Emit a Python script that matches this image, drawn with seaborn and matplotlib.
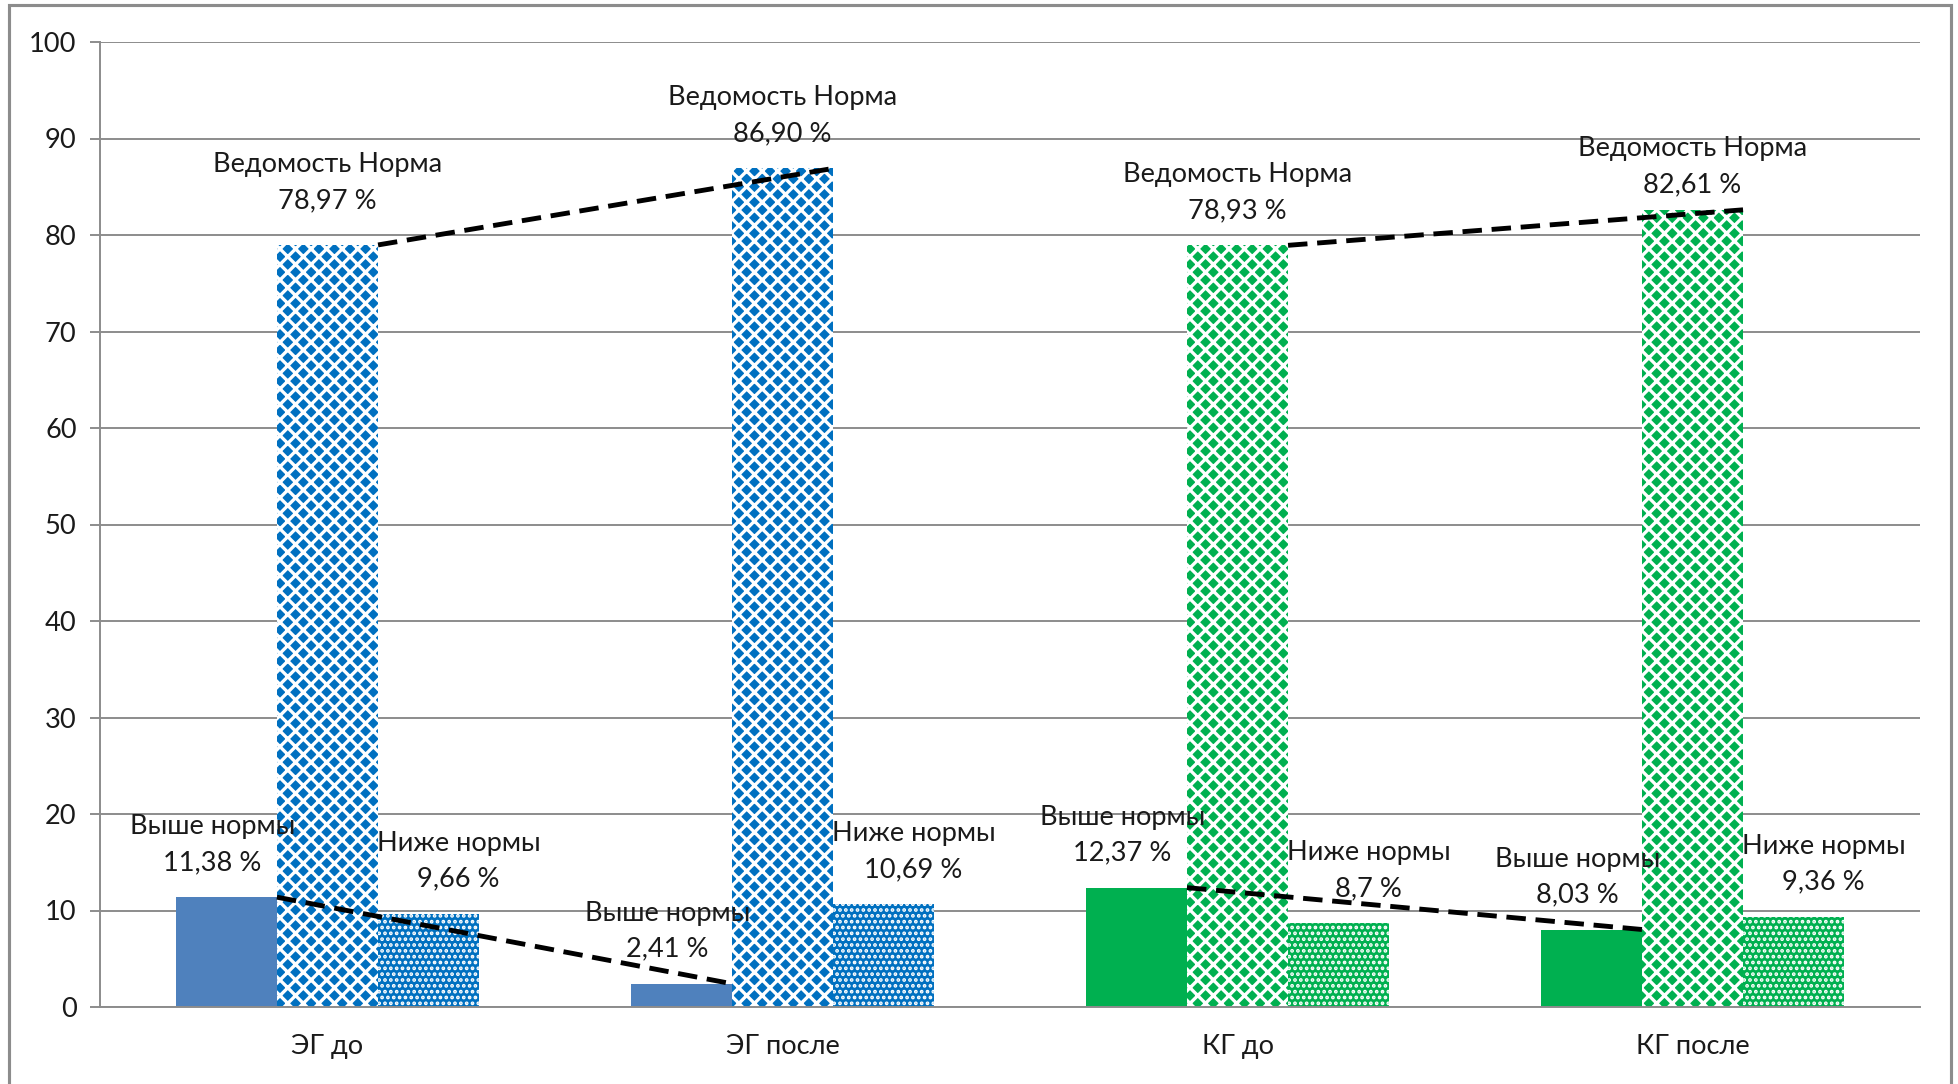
import matplotlib
matplotlib.use("Agg")
import matplotlib.pyplot as plt
import seaborn as sns
import pandas as pd
from matplotlib.patches import Rectangle

# данные с диаграммы
groups = ["ЭГ до", "ЭГ после", "КГ до", "КГ после"]
kinds = ["Выше нормы", "Ведомость Норма", "Ниже нормы"]
above_norm = [11.38, 2.41, 12.37, 8.03]
norm = [78.97, 86.90, 78.93, 82.61]
below_norm = [9.66, 10.69, 8.7, 9.36]
value_labels = [
    ["11,38 %", "2,41 %", "12,37 %", "8,03 %"],
    ["78,97 %", "86,90 %", "78,93 %", "82,61 %"],
    ["9,66 %", "10,69 %", "8,7 %", "9,36 %"],
]

rows = []
for k, vals in zip(kinds, [above_norm, norm, below_norm]):
    for g, v in zip(groups, vals):
        rows.append({"group": g, "kind": k, "value": v})
df = pd.DataFrame(rows)

sns.set_style("white")
plt.rcParams["font.family"] = ["Lato", "DejaVu Sans"]
plt.rcParams["hatch.linewidth"] = 1.3

DPI = 140
fig = plt.figure(figsize=(1959 / DPI, 1084 / DPI), dpi=DPI)
ax = fig.add_axes([100 / 1959, 77 / 1084, 1820 / 1959, 965 / 1084])

sns.barplot(data=df, x="group", y="value", hue="kind", hue_order=kinds,
            order=groups, width=2 / 3, dodge=True, legend=False, ax=ax,
            errorbar=None)

solid = {"ЭГ": "#4F81BD", "КГ": "#00B050"}
pattern = {"ЭГ": "#0070C0", "КГ": "#00B050"}
hatches = [None, "xxx", "...."]
hatch_lw = [None, 1.7, 1.3]

for i, cont in enumerate(ax.containers):
    for j, bar in enumerate(cont):
        key = groups[j][:2]
        bar.set_linewidth(0)
        if i == 0:
            bar.set_facecolor(solid[key])
            bar.set_edgecolor(solid[key])
        else:
            bar.set_facecolor(pattern[key])
            bar.set_edgecolor("white")
            bar.set_hatch(hatches[i])
            if hasattr(bar, "set_hatch_linewidth"):
                bar.set_hatch_linewidth(hatch_lw[i])

# подписи (сдвиг в пикселях, как в исходной диаграмме)
dxs = [-14, 0, 30]
norm_lift = [10, 0, 0, -9]
for i, cont in enumerate(ax.containers):
    for j, bar in enumerate(cont):
        cx = bar.get_x() + bar.get_width() / 2
        top = bar.get_height()
        dy = 22 + (norm_lift[j] if i == 1 else 0)
        ax.annotate(kinds[i] + "\n" + value_labels[i][j], (cx, top),
                    xytext=(dxs[i], dy), textcoords="offset pixels",
                    ha="center", va="bottom", fontsize=14, color="#1a1a1a",
                    linespacing=1.55, zorder=5)

# пунктирные линии (ЭГ до -> ЭГ после, КГ до -> КГ после)
for i in [0, 1]:
    cont = ax.containers[i]
    for a, b in [(0, 1), (2, 3)]:
        xs = [cont[a].get_x() + cont[a].get_width(), cont[b].get_x() + cont[b].get_width()]
        ys = [cont[a].get_height(), cont[b].get_height()]
        ax.plot(xs, ys, color="black", lw=2.5, linestyle=(0, (4, 2)), zorder=6)

ax.set_xlim(-0.5, 3.5)
ax.set_ylim(0, 100)
ax.set_yticks(range(0, 101, 10))
ax.set_xlabel("")
ax.set_ylabel("")
ax.set_xticks([-0.5, 0.5, 1.5, 2.5, 3.5], minor=True)
ax.tick_params(axis="x", which="major", length=0, pad=14, labelsize=14, labelcolor="#1a1a1a")
ax.tick_params(axis="x", which="minor", length=5, width=1, color="#8c8c8c", direction="out")
ax.tick_params(axis="y", length=5, width=1, color="#8c8c8c", pad=7, labelsize=14,
               labelcolor="#1a1a1a", left=True)
ax.yaxis.grid(True, color="#8c8c8c", lw=1)
ax.set_axisbelow(True)
for s in ["top", "right"]:
    ax.spines[s].set_visible(False)
for s in ["left", "bottom"]:
    ax.spines[s].set_color("#8c8c8c")
    ax.spines[s].set_linewidth(1)

# рамка диаграммы
fig.add_artist(Rectangle((9 / 1959, -0.05), 1942 / 1959, 1.05 - 5 / 1084,
                         transform=fig.transFigure, fill=False,
                         edgecolor="#8c8c8c", lw=1.6))

fig.savefig("out.png", dpi=DPI)
